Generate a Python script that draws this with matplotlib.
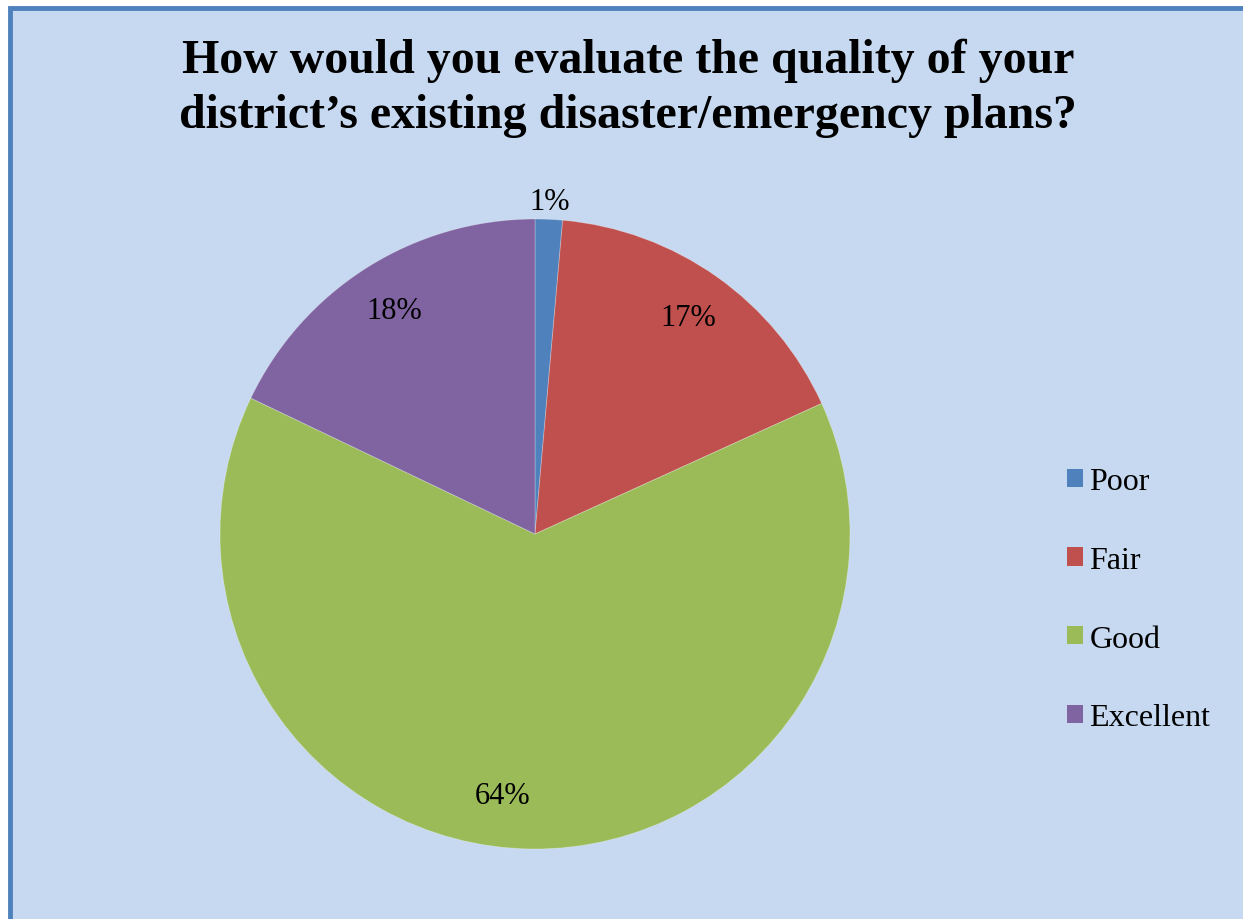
import matplotlib
matplotlib.use("Agg")
import matplotlib.pyplot as plt
from matplotlib.patches import Rectangle, Patch

labels = ["Poor", "Fair", "Good", "Excellent"]
values = [1.4, 16.8, 63.9, 17.9]
colors = ["#4F81BD", "#C0504D", "#9BBB59", "#8064A2"]
title_lines = ["How would you evaluate the quality of your",
               "district\u2019s existing disaster/emergency plans?"]

W, H = 1243, 920
fig = plt.figure(figsize=(W / 100, H / 100), dpi=100)
fig.patch.set_facecolor("white")

# chart area background with blue frame (left/top visible)
bg = Rectangle((9.5 / W, -0.1), 1.2, (H - 8.5) / H + 0.1, transform=fig.transFigure,
               facecolor="#C6D9F0", edgecolor="#4F81BD", linewidth=3.5, zorder=-10)
fig.patches.append(bg)

serif = ["Liberation Serif", "DejaVu Serif"]

fig.text(628 / W, 1 - 73 / H, title_lines[0], ha="center", va="baseline",
         fontsize=34.5, fontweight="bold", family=serif)
fig.text(628 / W, 1 - 128 / H, title_lines[1], ha="center", va="baseline",
         fontsize=34.5, fontweight="bold", family=serif)

cx, cy, r = 535, 535, 315
ax = fig.add_axes([(cx - r) / W, (H - cy - r) / H, 2 * r / W, 2 * r / H])
ax.set_facecolor("none")

wedges, texts, autotexts = ax.pie(
    values, colors=colors, startangle=90, counterclock=False,
    autopct=lambda p: f"{p:.0f}%", pctdistance=0.84,
    wedgeprops=dict(edgecolor=(1, 1, 1, 0.3), linewidth=0.6),
    textprops=dict(fontsize=22, family=serif, color="black"))
ax.set_xlim(-1, 1)
ax.set_ylim(-1, 1)

# the tiny slice gets its label outside the pie
x0, y0 = autotexts[0].get_position()
autotexts[0].set_position((x0 * 1.055 / 0.84, y0 * 1.055 / 0.84))
# nudge the big slice's label a little left, as in the original
x2, y2 = autotexts[2].get_position()
autotexts[2].set_position((x2 - 0.095, y2 + 0.01))

handles = [Patch(facecolor=c, edgecolor="none") for c in colors]
fig.legend(handles, labels, loc="upper left", bbox_to_anchor=(1051 / W, 1 - 452 / H),
           frameon=False, prop=dict(family=serif, size=23), handlelength=0.5,
           handleheight=0.5, handletextpad=0.2, labelspacing=1.56, borderpad=0)

fig.savefig("out.png", dpi=100)
